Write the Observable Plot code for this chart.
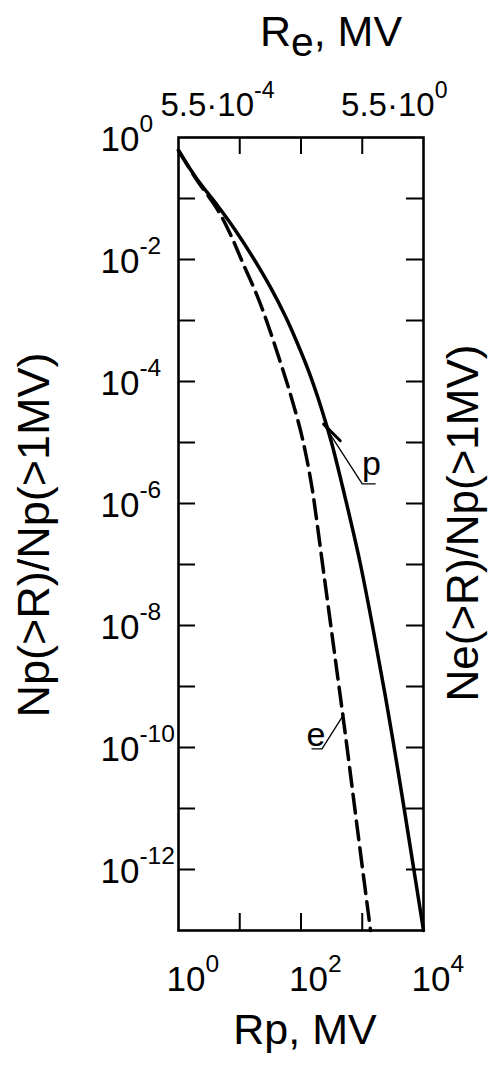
<!DOCTYPE html>
<html><head><meta charset="utf-8">
<script src="https://cdn.jsdelivr.net/npm/d3@7"></script>
<script src="https://cdn.jsdelivr.net/npm/@observablehq/plot@0.6"></script>
<style>html,body{margin:0;padding:0;background:#fff;} svg{display:block;}</style>
</head><body><div id="chart"></div>
<script>
// ---- data ----
const protonR   = [1, 1.97, 4.33, 8.52, 16.8, 31.8, 55.8, 87.6, 138, 208, 315, 476, 667, 936, 1469, 2399, 3908, 6138, 10000];
const protonN   = [0.612, 0.213, 0.0767, 0.0299, 0.0104, 3.48e-3, 1.16e-3, 4.20e-4, 1.35e-4, 4.05e-5, 1.0e-5, 1.90e-6, 4.56e-7, 1.0e-7, 9.9e-9, 6.7e-10, 3.7e-11, 2.2e-12, 1e-13];
const electronR = [1, 1.97, 4.33, 7.06, 11.5, 19.5, 29.5, 46.2, 67.4, 98.2, 123, 154, 186, 224, 339, 533, 836, 1365];
const electronN = [0.612, 0.205, 0.066, 0.0257, 8.28e-3, 2.47e-3, 7.97e-4, 2.05e-4, 6.12e-5, 1.57e-5, 5.68e-6, 1.63e-6, 4.2e-7, 1.04e-7, 4.7e-9, 1.57e-10, 4.53e-12, 1e-13];

const yTickValues  = [1e-1,1e-2,1e-3,1e-4,1e-5,1e-6,1e-7,1e-8,1e-9,1e-10,1e-11,1e-12];
const yLabelValues = [1e0,1e-2,1e-4,1e-6,1e-8,1e-10,1e-12];
const xTickValues  = [10, 100, 1000];
const xLabelValues = [1, 100, 10000];
const topLabelValues = [1, 10000];
const topLabelTexts  = ["5.5·10^{-4}", "5.5·10^{0}"];

const curveLabels = ["p", "e"];
const curveLabelR = [1413, 175];
const curveLabelN = [2.9e-6, 1.05e-10];
const pLeaderR = [234, 1000, 1630];
const pLeaderN = [2.0e-5, 2.1e-6, 2.1e-6];
const pLeaderStubR = [234, 437];
const pLeaderStubN = [2.0e-5, 1.07e-5];
const eLeaderR = [151, 220, 500];
const eLeaderN = [9.5e-11, 9.5e-11, 3.5e-10];

const titleTop = "R_{e}, MV";
const titleBottom = "Rp, MV";
const titleLeft = "Np(>R)/Np(>1MV)";
const titleRight = "Ne(>R)/Np(>1MV)";

// ---- layout ----
const W = 489, H = 1067;
const mL = 178, mR = 66, mT = 137, mB = 137;
const fw = W - mL - mR, fh = H - mT - mB;
const tickLen = 17;
const pow10 = d => "10^{" + Math.round(Math.log10(d)) + "}";
const idx = a => d3.range(a.length);

const svg = Plot.plot({
  width: W, height: H,
  marginLeft: mL, marginRight: mR, marginTop: mT, marginBottom: mB,
  x: {type: "log", domain: [1, 1e4], axis: null},
  y: {type: "log", domain: [1e-13, 1], axis: null},
  style: {fontFamily: "'Liberation Sans', Arial, sans-serif", color: "black", background: "white", overflow: "visible"},
  marks: [
    Plot.line(idx(protonR), {x: i => protonR[i], y: i => protonN[i], curve: "catmull-rom", stroke: "black", strokeWidth: 3.5}),
    Plot.line(idx(electronR), {x: i => electronR[i], y: i => electronN[i], curve: "catmull-rom", stroke: "black", strokeWidth: 3.5, strokeDasharray: "19,8"}),
    Plot.line(idx(pLeaderR), {x: i => pLeaderR[i], y: i => pLeaderN[i], stroke: "black", strokeWidth: 1.3}),
    Plot.line(idx(pLeaderStubR), {x: i => pLeaderStubR[i], y: i => pLeaderStubN[i], stroke: "black", strokeWidth: 3}),
    Plot.line(idx(eLeaderR), {x: i => eLeaderR[i], y: i => eLeaderN[i], stroke: "black", strokeWidth: 1.3}),
    Plot.text(idx(curveLabels), {x: i => curveLabelR[i], y: i => curveLabelN[i], text: i => curveLabels[i], fontSize: 34, lineAnchor: "bottom", textAnchor: "middle"}),
    Plot.frame({stroke: "black", strokeWidth: 2.6}),
    Plot.tickY(yTickValues, {y: d => d, insetRight: fw - tickLen, stroke: "black", strokeWidth: 2}),
    Plot.tickY(yTickValues, {y: d => d, insetLeft: fw - tickLen, stroke: "black", strokeWidth: 2}),
    Plot.tickX(xTickValues, {x: d => d, insetBottom: fh - tickLen, stroke: "black", strokeWidth: 2}),
    Plot.tickX(xTickValues, {x: d => d, insetTop: fh - tickLen, stroke: "black", strokeWidth: 2}),
    // left tick labels
    Plot.text(yLabelValues, {y: d => d, text: pow10, frameAnchor: "left", textAnchor: "start", lineAnchor: "bottom", dx: -78, dy: 13, fontSize: 35}),
    // bottom tick labels
    Plot.text(xLabelValues, {x: d => d, text: pow10, frameAnchor: "bottom", textAnchor: "start", lineAnchor: "bottom", dx: -12, dy: 60, fontSize: 35}),
    // top tick labels (electron rigidity)
    Plot.text([0], {x: i => topLabelValues[i], text: i => topLabelTexts[i], frameAnchor: "top", textAnchor: "start", lineAnchor: "bottom", dx: -18, dy: -22, fontSize: 33}),
    Plot.text([1], {x: i => topLabelValues[i], text: i => topLabelTexts[i], frameAnchor: "top", textAnchor: "end", lineAnchor: "bottom", dx: 24, dy: -22, fontSize: 33}),
    // titles
    Plot.text([titleTop], {text: d => d, frameAnchor: "top", textAnchor: "middle", lineAnchor: "bottom", dx: 30, dy: -92, fontSize: 43}),
    Plot.text([titleBottom], {text: d => d, frameAnchor: "bottom", textAnchor: "middle", lineAnchor: "bottom", dx: 4, dy: 113, fontSize: 43}),
    Plot.text([titleLeft], {text: d => d, frameAnchor: "left", rotate: -90, textAnchor: "middle", lineAnchor: "middle", dx: -144, dy: 1, fontSize: 45}),
    Plot.text([titleRight], {text: d => d, frameAnchor: "right", rotate: -90, textAnchor: "middle", lineAnchor: "middle", dx: 40, dy: -11, fontSize: 44})
  ]
});
document.getElementById("chart").appendChild(svg);

// ---- superscript / subscript rendering: "^{..}" and "_{..}" ----
const NS = "http://www.w3.org/2000/svg";
svg.querySelectorAll("text").forEach(el => {
  const s = el.textContent;
  if (!/[\^_]\{/.test(s)) return;
  const F = parseFloat(getComputedStyle(el).fontSize) || 10;
  while (el.firstChild) el.removeChild(el.firstChild);
  const re = /([\^_])\{([^}]*)\}/g;
  let last = 0, cur = 0, m;
  const add = (txt, size, target) => {
    const t = document.createElementNS(NS, "tspan");
    t.textContent = txt;
    if (size) t.setAttribute("font-size", size);
    const dy = target - cur;
    if (dy) t.setAttribute("dy", dy);
    cur = target;
    el.appendChild(t);
  };
  while ((m = re.exec(s))) {
    if (m.index > last) add(s.slice(last, m.index), null, 0);
    if (m[1] === "^") add(m[2], (0.7 * F) + "px", -0.52 * F);
    else add(m[2], (0.95 * F) + "px", 0.24 * F);
    last = re.lastIndex;
  }
  if (last < s.length) add(s.slice(last), null, 0);
});
</script>
</body></html>
